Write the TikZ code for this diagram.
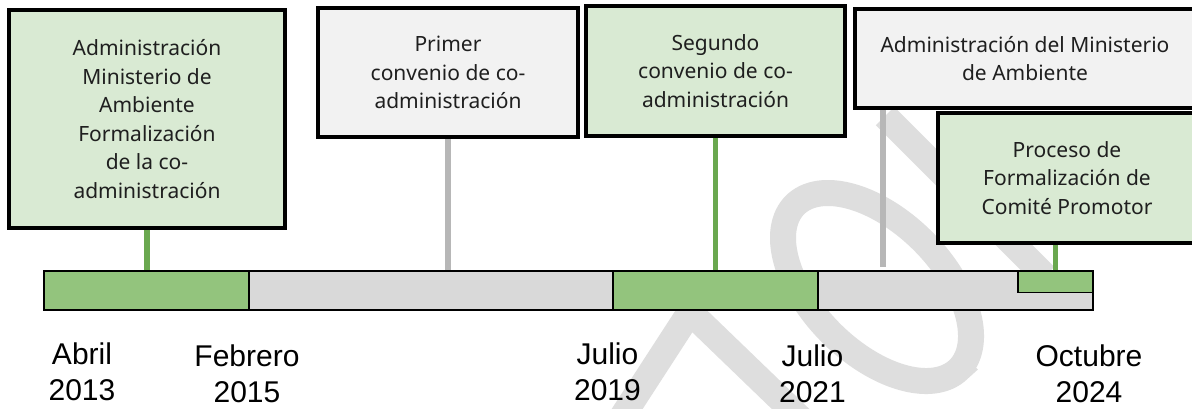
\documentclass[tikz,border=0pt]{standalone}
\usepackage{fontspec}
\setmainfont{Noto Sans}
\newfontfamily\datefont{Liberation Sans}
\usetikzlibrary{backgrounds}
\definecolor{boxgreen}{HTML}{D9EAD3}
\definecolor{boxgray}{HTML}{F2F2F2}
\definecolor{bargreen}{HTML}{93C47D}
\definecolor{bargray}{HTML}{D9D9D9}
\definecolor{stemgreen}{HTML}{6AA84F}
\definecolor{stemgray}{HTML}{B7B7B7}
\definecolor{wmgray}{HTML}{DEDEDE}
\begin{document}
\begin{tikzpicture}[x=1pt,y=-1pt,
  evbox/.style={draw=black, line width=4pt, inner sep=0pt, outer sep=0pt, align=center,
    text=black!88, font=\fontsize{21}{28.5}\selectfont},
  greenbox/.style={evbox, fill=boxgreen},
  graybox/.style={evbox, fill=boxgray},
  seg/.style={draw=black, line width=1.6pt, inner sep=0pt, outer sep=0pt, minimum height=39pt},
  stemG/.style={draw=stemgreen, line width=5.5pt},
  stemY/.style={draw=stemgray, line width=5.5pt},
  datelbl/.style={align=center, inner sep=0pt, font=\datefont\fontsize{30}{36}\selectfont},
  wmstroke/.style={draw=wmgray, line width=26pt}]
\useasboundingbox (0,0) rectangle (1192,408);
% boxes
\node[greenbox, minimum width=276pt, minimum height=218pt] (b1) at (147,119)
  {Administración\\Ministerio de\\Ambiente\\Formalización\\de la co-\\administración};
\node[graybox, minimum width=260pt, minimum height=129pt] (b2) at (448,72.5)
  {Primer\\convenio de co-\\administración};
\node[greenbox, minimum width=259pt, minimum height=130pt] (b3) at (715.5,71)
  {Segundo\\convenio de co-\\administración};
\node[graybox, minimum width=340pt, minimum height=99pt] (b4) at (1025,58.5)
  {Administración del Ministerio\\de Ambiente};
\node[greenbox, minimum width=258pt, minimum height=130pt] (b5) at (1067,178)
  {Proceso de\\Formalización de\\Comité Promotor};
% bar
\node[seg, fill=bargray, minimum width=1049pt] (bar) at (568.5,290.5) {};
\node[seg, fill=bargreen, minimum width=205pt] (s1) at (146.5,290.5) {};
\node[seg, fill=bargreen, minimum width=205pt] (s3) at (715.5,290.5) {};
\node[seg, fill=bargreen, minimum width=75pt, minimum height=21.5pt] (s5) at (1055.5,281.75) {};
\coordinate (c4) at ([xshift=28pt]b4.south west);
% background: watermark and stems
\begin{scope}[on background layer]
\fill[white] (0,0) rectangle (1192,408);
\draw[wmstroke] (885,116) -- (1045,276);
\draw[wmstroke] plot[domain=0:360, samples=90, smooth cycle, variable=\t]
  ({877 + 0.7071*(116*cos(\t) - 65*sin(\t))}, {287 + 0.7071*(116*cos(\t) + 65*sin(\t))});
\draw[wmstroke, line join=round] (620,420) -- (690,312) -- (802,420);
\draw[stemG] (b1.south) -- (b1.south |- s1.north);
\draw[stemY] (b2.south) -- (b2.south |- bar.north);
\draw[stemG] (b3.south) -- (b3.south |- s3.north);
\draw[stemY, shorten >=4pt] (c4) -- (c4 |- bar.north);
\draw[stemG] (s5.north) -- (s5.north |- b5.south);
\end{scope}
% labels
\node[datelbl] (l1) at (82,372) {Abril\\2013};
\node[datelbl] (l2) at (247,374) {Febrero\\2015};
\node[datelbl] (l3) at (607.5,372) {Julio\\2019};
\node[datelbl] (l4) at (812.5,374) {Julio\\2021};
\node[datelbl] (l5) at (1089,374) {Octubre\\2024};
\end{tikzpicture}
\end{document}
